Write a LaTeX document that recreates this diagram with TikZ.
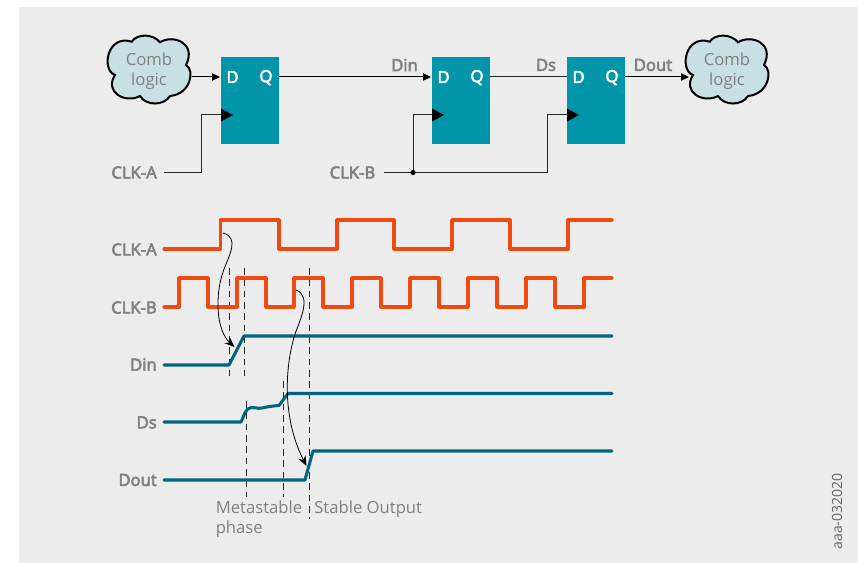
\documentclass[tikz,border=0pt]{standalone}
\usepackage{fontspec}
\setmainfont{Open Sans}
\newfontfamily\medf[FakeBold=3.5]{Open Sans}
\usetikzlibrary{arrows.meta,calc}
\definecolor{bgc}{HTML}{ECECEC}
\definecolor{teal1}{HTML}{0095A9}
\definecolor{wavo}{HTML}{EF4A10}
\definecolor{wavt}{HTML}{00647F}
\definecolor{cloudc}{HTML}{C8DFE4}
\definecolor{txt}{HTML}{808080}
\tikzset{
 x=0.75pt,y=-0.75pt,
 ff/.style={fill=teal1,draw=none,minimum width=43.5pt,minimum height=65.25pt,inner sep=0,outer sep=0},
 pin/.style={text=white,font=\fontsize{12.5}{14}\selectfont\medf,inner sep=0},
 lab/.style={text=txt,font=\fontsize{12.5}{14}\selectfont\medf,inner sep=0},
 lab2/.style={text=txt,font=\fontsize{12.5}{14}\selectfont,inner sep=0},
 cloudtext/.style={text=txt,font=\fontsize{12.5}{15}\selectfont,align=center,inner sep=0,minimum width=64pt,minimum height=51pt},
 wire/.style={draw=black!85,line width=0.75pt},
 sig/.style={-{Triangle[length=6pt,width=5.5pt]},draw=black,line width=0.75pt},
 wa/.style={draw=wavo,line width=2.3pt,line join=round,line cap=round},
 wb/.style={draw=wavt,line width=2.3pt,line join=round,line cap=round},
 dsh/.style={draw=black!85,line width=0.6pt,dash pattern=on 5pt off 3.5pt},
 curv/.style={draw=black,line width=0.6pt,-{Stealth[length=7.5pt,width=6pt]}},
}
\newcommand{\cloudpath}[2]{%
 \draw[fill=cloudc,draw=black,line width=1.5pt,shift={(#1,#2)}]
 (-17.3,-28.3) .. controls (-12,-36.5) and (4,-36.5) .. (11,-27.7)
 .. controls (24,-36) and (48,-27) .. (37,-5)
 .. controls (46,0) and (42,24) .. (21,26)
 .. controls (15,36) and (-3,36) .. (-9,26)
 .. controls (-24,34) and (-45,22) .. (-34,5)
 .. controls (-48,0) and (-42,-36) .. (-17.3,-28.3) -- cycle;}
\begin{document}
\begin{tikzpicture}
\useasboundingbox (0,0) rectangle (858,563);
\fill[bgc] (19,7) rectangle (858,563);
% clouds
\cloudpath{149}{70}
\cloudpath{727}{70}
\node[cloudtext] (c1) at (149,71) {Comb\\logic};
\node[cloudtext] (c2) at (727,71) {Comb\\logic};
% flip-flops
\node[ff] (f1) at (250,100.5) {};
\node[ff] (f2) at (461,100.5) {};
\node[ff] (f3) at (596,100.5) {};
\coordinate (f1d) at (221,77); \coordinate (f1q) at (279,77); \coordinate (f1c) at (221,115);
\coordinate (f2d) at (432,77); \coordinate (f2q) at (490,77); \coordinate (f2c) at (432,115);
\coordinate (f3d) at (567,77); \coordinate (f3q) at (625,77); \coordinate (f3c) at (567,115);
\foreach \n/\x in {a/232.5,b/443.5,c/578.5}{\node[pin] (d\n) at (\x,77) {D};}
\foreach \n/\x in {a/266,b/477,c/612}{\node[pin] (q\n) at (\x,77.5) {Q};}
\foreach \n in {f1c,f2c,f3c}{\fill[black] (\n)++(0,-6.5) -- ++(12,6.5) -- ++(-12,6.5) -- cycle;}
% labels
\node[lab,anchor=east] (la) at (157,172.5) {CLK-A};
\node[lab,anchor=east] (lb) at (375.5,172.5) {CLK-B};
\node[lab] (ldin) at (404.5,65) {Din};
\node[lab] (lds) at (546,65) {Ds};
\node[lab] (ldout) at (653,65) {Dout};
\coordinate (ca0) at (164,172.5);
\coordinate (cb0) at (384,172.5);
\coordinate (c1o) at (192,77);
\coordinate (c2i) at (689,77);
% connectors
\draw[sig] (c1o) -- ($(f1d)+(-1,0)$);
\draw[sig] (f1q) -- ($(f2d)+(-1,0)$);
\draw[wire] (f2q) -- (f3d);
\draw[sig] (f3q) -- (c2i);
\draw[wire] (ca0) -- (201,172.5) -- (201,115) -- (f1c);
\draw[wire] (cb0) -- (547.5,172.5) -- (547.5,115) -- (f3c);
\coordinate (jn) at (413,172.5);
\draw[wire] (jn) -- (413,115) -- (f2c);
\fill[black] (jn) circle (2.6);
% wave labels
\node[lab,anchor=east] (w1) at (157,249.5) {CLK-A};
\node[lab,anchor=east] (w2) at (157,307.5) {CLK-B};
\node[lab,anchor=east] (w3) at (157,364.5) {Din};
\node[lab,anchor=east] (w4) at (157,422.5) {Ds};
\node[lab,anchor=east] (w5) at (157,480) {Dout};
% dashed
\draw[dsh] (229,268) -- (229,376);
\draw[dsh] (244,268) -- (244,376);
\draw[dsh] (309,268) -- (309,519);
\draw[dsh] (246.7,401) -- (246.7,497);
\draw[dsh] (283.5,381) -- (283.5,497);
% waves
\draw[wa] (164,249) -- (220.5,249) -- (220.5,220) -- (279,220) -- (279,249) -- (337,249) -- (337,220) -- (394,220) -- (394,249) -- (452,249) -- (452,220) -- (510,220) -- (510,249) -- (568,249) -- (568,220) -- (612,220);
\draw[wa] (164,307) -- (179,307) -- (179,278) -- (208,278) -- (208,307) -- (237,307) -- (237,278) -- (266,278) -- (266,307) -- (294,307) -- (294,278) -- (323,278) -- (323,307) -- (352,307) -- (352,278) -- (381,278) -- (381,307) -- (410,307) -- (410,278) -- (439,278) -- (439,307) -- (468,307) -- (468,278) -- (497,278) -- (497,307) -- (526,307) -- (526,278) -- (555,278) -- (555,307) -- (584,307) -- (584,278) -- (612,278);
\draw[wb] (164,365) -- (229,365) -- (244,336) -- (612,336);
\draw[wb] (164,422) -- (241,422) .. controls (243.5,418) and (245,408) .. (251,407.5) .. controls (255,407) and (257,409) .. (262,408) .. controls (266,407) and (272,406) .. (279,405.5) -- (288,393.5) -- (612,393.5);
\draw[wb] (164,480) -- (305,480) -- (313,451) -- (612,451);
% causal curves
\coordinate (e1a) at (223,233); \coordinate (e1b) at (234.5,347);
\coordinate (e2a) at (296,290); \coordinate (e2b) at (306.5,466);
\draw[curv] (e1a) .. controls (240,238) and (229,255) .. (223,272) .. controls (215,295) and (216,330) .. (e1b);
\draw[curv] (e2a) .. controls (312,296) and (300,320) .. (295,334) .. controls (284,370) and (283,420) .. (e2b);
% text
\node[lab2,anchor=north west] (tm) at (215.5,501) {Metastable};
\node[lab2,anchor=north west] (tp) at (215.5,521) {phase};
\node[lab2,anchor=north west] (ts) at (314,501) {Stable Output};
\node[rotate=90,text=black!60,font=\fontsize{10.5}{12}\selectfont,inner sep=0] (id) at (837,511.5) {aaa-032020};
\end{tikzpicture}
\end{document}
